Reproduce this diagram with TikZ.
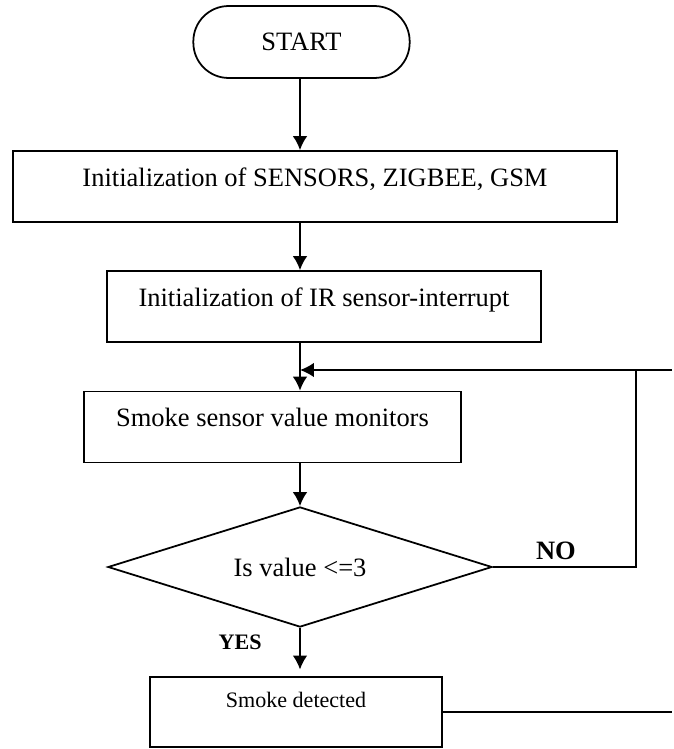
\documentclass[tikz,border=0pt]{standalone}
\usepackage{fontspec}
\setmainfont{Liberation Serif}
\usetikzlibrary{shapes.geometric, arrows.meta}
\begin{document}
\begin{tikzpicture}[x=0.453pt, y=-0.453pt, every node/.style={font=\fontsize{12}{14}\selectfont},
        box/.style={shape=rectangle, thick, draw, align=center, inner xsep=0pt, inner ysep=0pt, text height=15.9pt, text depth=16.3pt},
        flow/.style={draw, -{Latex[length=6.3pt, width=6.6pt]}, thick}]
        \useasboundingbox (0,0) rectangle (674,749);
        \coordinate (spine) at (300,0);
        \node[{shape=rectangle, thick, rounded corners=16pt, draw, minimum width=98pt, minimum height=32.6pt}] (start) at (301.5,42) {START};
        \node[box, minimum width=273.6pt] (init) at (315,186.5) {Initialization of SENSORS, ZIGBEE, GSM};
        \node[box, minimum width=196.6pt] (irint) at (324,306.5) {Initialization of IR sensor-interrupt};
        \node[box, minimum width=170.8pt] (smoke) at (272.5,427) {Smoke sensor value monitors};
        \node[{shape=diamond, aspect=3.2, thick, draw, inner sep=0pt, minimum width=174pt, minimum height=54.4pt}] (check) at (300,567) {Is value <=3};
        \node[box, minimum width=132.3pt, text height=13.6pt, text depth=18.1pt, font=\fontsize{10}{12}\selectfont] (detect) at (296,712) {Smoke detected};
        \path[flow] (spine |- start.south) -- (spine |- init.north);
        \path[flow] (spine |- init.south) -- (spine |- irint.north);
        \path[flow] (spine |- irint.south) -- (spine |- smoke.north);
        \path[flow] (spine |- smoke.south) -- (check.north);
        \path[flow, shorten >=3pt] (check.south) -- node[left=17pt, pos=0.3, inner sep=0pt, font=\fontsize{10}{12}\selectfont\bfseries] {YES} (spine |- detect.north);
        % loop back
        \coordinate (loopin) at (672,370);
        \coordinate (loopcorner) at (636,567);
        \coordinate (loopout) at (672,714);
        \draw[thick] (check.east) -- node[above=3pt, pos=0.44, inner sep=0pt, font=\fontsize{12}{14}\selectfont\bfseries] {NO} (loopcorner) -- (loopcorner |- loopin);
        \path[flow] (loopin) -- (spine |- loopin);
        \draw[thick] (detect.east) -- (loopout |- detect.east);
    \end{tikzpicture}
\end{document}
